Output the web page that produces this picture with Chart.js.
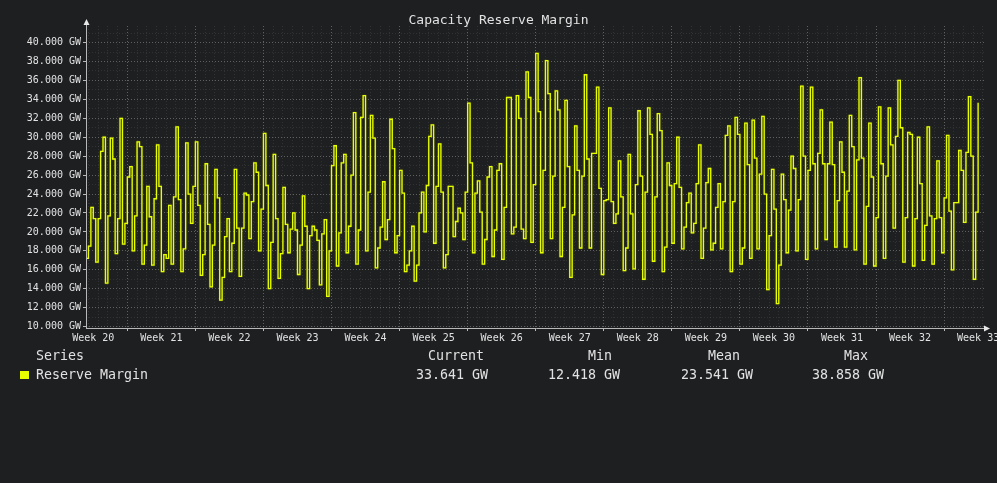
<!DOCTYPE html>
<html><head><meta charset="utf-8">
<script src="https://cdn.jsdelivr.net/npm/chart.js@4.4.1/dist/chart.umd.min.js"></script>
<style>
html,body{margin:0;padding:0;background:#1e1f21;}
#wrap{position:relative;width:997px;height:483px;overflow:hidden;background:#1e1f21;font-family:'DejaVu Sans Mono',monospace;color:#e2e2e2;}
canvas{position:absolute;left:0;top:0;}
.t{position:absolute;white-space:pre;font-size:13.3px;line-height:1;}
</style></head><body>
<div id="wrap">
<canvas id="c" width="997" height="483"></canvas>
<div class="t" id="title" style="left:0;width:997px;text-align:center;top:13px;font-size:13px;">Capacity Reserve Margin</div>
<div class="t" style="left:36px;top:349px;">Series</div>
<div class="t" style="left:428px;top:349px;">Current</div>
<div class="t" style="left:588px;top:349px;">Min</div>
<div class="t" style="left:708px;top:349px;">Mean</div>
<div class="t" style="left:844px;top:349px;">Max</div>
<div style="position:absolute;left:20px;top:371px;width:9px;height:8px;background:#e8ff00;"></div>
<div class="t" style="left:36px;top:368px;">Reserve Margin</div>
<div class="t" id="vCur" style="left:416px;top:368px;"></div>
<div class="t" id="vMin" style="left:548px;top:368px;"></div>
<div class="t" id="vMean" style="left:681px;top:368px;"></div>
<div class="t" id="vMax" style="left:812px;top:368px;"></div>
</div>
<script>
// ---- data ----
const weekLabels = ['Week 20','Week 21','Week 22','Week 23','Week 24','Week 25','Week 26',
  'Week 27','Week 28','Week 29','Week 30','Week 31','Week 32','Week 33'];
const yTickValues = [10,12,14,16,18,20,22,24,26,28,30,32,34,36,38,40];
const summaryLabels = ['Current','Min','Mean','Max'];
const summaryValues = [33.641, 12.418, 23.541, 38.858];
const startHour = 66;   // hours after start of Week 20
const stepHours = 6;
const reserveMargin = [
 17.2,18.5,22.6,21.4,16.8,21.4,28.5,30.0,14.6,21.7,29.9,27.7,17.7,21.4,32.0,18.7,20.9,25.8,26.9,18.0,
 21.7,29.5,29.0,16.6,18.6,24.8,21.6,16.5,23.5,29.2,24.8,15.8,17.6,17.2,22.8,16.6,23.7,31.1,23.4,15.8,
 18.2,29.4,24.0,20.9,24.8,29.5,22.8,15.4,17.6,27.2,20.8,14.2,18.6,26.6,23.6,12.8,15.2,19.5,21.4,15.8,
 18.8,26.6,
 20.4,15.3,20.4,24.1,23.9,19.3,23.2,27.3,26.3,18.0,22.4,30.4,24.9,14.0,18.9,28.2,21.4,15.1,17.7,24.7,
 20.8,17.8,20.3,22.0,20.2,15.5,18.6,23.8,20.6,14.0,19.6,20.6,20.2,19.1,14.4,
 19.8,21.3,13.2,18.0,27.0,29.1,16.4,19.9,27.3,28.2,17.8,20.6,26.0,32.6,16.6,20.2,32.1,34.4,18.0,24.2,
 32.3,29.9,16.2,18.3,20.5,25.3,19.2,21.3,31.9,28.8,17.8,19.6,26.5,
 24.1,15.8,16.5,18.0,20.6,14.8,16.5,22.0,24.2,20.0,24.9,30.1,31.3,18.8,24.8,29.3,24.2,16.2,17.6,24.8,
 24.8,19.5,21.1,22.5,22.0,19.2,24.2,33.6,27.3,17.8,24.1,25.4,22.1,16.6,19.2,
 25.8,26.9,17.4,20.2,26.5,27.2,17.1,22.6,34.2,34.2,19.8,20.5,34.4,32.0,20.3,19.3,36.9,34.2,18.9,25.0,
 38.858,32.7,17.8,26.5,38.1,34.6,19.3,25.9,34.9,32.9,17.4,22.6,33.9,26.9,
 15.2,21.8,31.2,26.5,18.3,25.9,36.6,27.7,18.3,28.3,28.3,35.3,24.6,15.5,23.3,23.4,33.1,23.2,20.9,21.9,
 27.5,23.7,15.9,18.3,28.2,21.9,16.1,25.0,32.8,25.9,15.0,24.2,33.1,30.3,16.9,23.7,
 32.5,30.7,15.8,18.4,27.3,24.9,18.8,25.1,30.0,24.7,18.2,20.5,23.1,24.1,19.9,20.9,25.1,29.2,17.2,20.4,
 25.2,26.7,18.1,18.8,22.6,25.1,18.2,23.2,30.2,31.2,15.8,23.2,32.1,30.3,
 16.6,18.3,31.5,27.1,17.2,31.8,27.8,18.2,26.1,32.2,24.0,13.9,19.6,26.6,22.4,12.418,16.5,26.1,23.4,17.8,
 22.3,28.0,26.7,18.0,23.4,35.4,28.0,17.1,26.5,35.3,27.2,18.2,28.3,
 32.9,27.2,19.2,27.2,31.6,27.1,18.4,23.3,29.5,26.3,18.4,24.3,32.3,29.0,18.1,27.6,36.3,27.8,16.6,22.7,
 31.5,25.8,16.4,21.5,33.2,27.2,17.2,25.9,33.1,29.2,20.4,30.1,36.0,31.0,
 16.8,21.5,30.5,30.3,16.4,21.4,30.0,25.1,17.0,20.7,31.1,21.7,16.6,21.4,27.5,21.5,17.8,23.6,30.2,22.2,
 16.0,23.1,23.1,28.6,26.5,21.0,28.4,34.3,28.0,15.0,22.1,33.641
];

// ---- legend values ----
document.getElementById('vCur').textContent = summaryValues[0].toFixed(3) + ' GW';
document.getElementById('vMin').textContent = summaryValues[1].toFixed(3) + ' GW';
document.getElementById('vMean').textContent = summaryValues[2].toFixed(3) + ' GW';
document.getElementById('vMax').textContent = summaryValues[3].toFixed(3) + ' GW';

const points = reserveMargin.map((v, i) => ({x: startHour + i * stepHours, y: v}));
const HOURS_WEEK = 168, HOURS_DAY = 24;
const X_MIN = 66, X_MAX = 2285;

const MAJOR = 'rgba(150,150,150,0.55)';
const MINOR = 'rgba(130,130,130,0.2)';
const AXIS = '#b8b8b8';
const FONT = "'DejaVu Sans Mono', monospace";

const axesPlugin = {
  id: 'rrdAxes',
  beforeDatasetsDraw(chart) {
    const ctx = chart.ctx;
    ctx.save();
    ctx.shadowColor = 'rgba(190,215,0,0.4)';
    ctx.shadowBlur = 1.5;
  },
  afterDatasetsDraw(chart) {
    chart.ctx.restore();
    const {ctx, chartArea: a} = chart;
    ctx.save();
    ctx.strokeStyle = AXIS;
    ctx.fillStyle = '#e8e8e8';
    ctx.lineWidth = 1;
    ctx.beginPath();
    ctx.moveTo(a.left + 0.5, a.bottom + 0.5);
    ctx.lineTo(a.left + 0.5, a.top - 2);
    ctx.moveTo(a.left, a.bottom + 0.5);
    ctx.lineTo(a.right + 2, a.bottom + 0.5);
    ctx.stroke();
    ctx.beginPath();
    ctx.moveTo(a.left + 0.5, a.top - 7);
    ctx.lineTo(a.left - 2.5, a.top - 1);
    ctx.lineTo(a.left + 3.5, a.top - 1);
    ctx.closePath();
    ctx.fill();
    ctx.beginPath();
    ctx.moveTo(a.right + 5, a.bottom + 0.5);
    ctx.lineTo(a.right - 1, a.bottom - 2.5);
    ctx.lineTo(a.right - 1, a.bottom + 3.5);
    ctx.closePath();
    ctx.fill();
    ctx.restore();
  }
};

new Chart(document.getElementById('c'), {
  type: 'line',
  data: {
    datasets: [{
      label: 'Reserve Margin',
      data: points,
      borderColor: '#e8ff00',
      borderWidth: 1.3,
      pointRadius: 0,
      fill: false,
      stepped: true,
      tension: 0
    }]
  },
  options: {
    responsive: false,
    animation: false,
    layout: {padding: {left: 0, right: 12, top: 26, bottom: 135}},
    plugins: {legend: {display: false}, tooltip: {enabled: false}, title: {display: false}},
    scales: {
      x: {
        type: 'linear',
        min: X_MIN, max: X_MAX,
        afterFit(s) { s.height = 20; },
        afterBuildTicks(s) {
          const t = [];
          for (let h = Math.ceil(X_MIN / HOURS_DAY) * HOURS_DAY; h <= X_MAX; h += HOURS_DAY) t.push(h);
          weekLabels.forEach((_, w) => { const m = w * HOURS_WEEK + 84; if (m >= X_MIN && m <= X_MAX) t.push(m); });
          t.sort((a, b) => a - b);
          s.ticks = t.map(v => ({value: v}));
        },
        ticks: {
          autoSkip: false, maxRotation: 0, minRotation: 0, padding: 1,
          color: '#e2e2e2', font: {family: FONT, size: 10},
          callback(v) {
            if ((v - 84) % HOURS_WEEK === 0) return weekLabels[Math.round((v - 84) / HOURS_WEEK)];
            return '';
          }
        },
        grid: {
          color(c) {
            const v = c.tick ? c.tick.value : 0;
            if (v % HOURS_WEEK === 0) return MAJOR;
            if (v % HOURS_DAY === 0) return MINOR;
            return 'rgba(0,0,0,0)';
          },
          tickColor(c) {
            const v = c.tick ? c.tick.value : 0;
            return v % HOURS_WEEK === 0 ? AXIS : 'rgba(0,0,0,0)';
          },
          tickLength: 3, lineWidth: 1, drawTicks: true
        },
        border: {display: false, dash: [1, 2]}
      },
      y: {
        type: 'linear',
        min: 9.85, max: 41.75,
        afterFit(s) { s.width = 86; },
        afterBuildTicks(s) {
          const t = [];
          for (let v = 10; v <= 41; v++) t.push({value: v});
          s.ticks = t;
        },
        ticks: {
          autoSkip: false, padding: 2,
          color: '#e2e2e2', font: {family: FONT, size: 10},
          callback(v) { return yTickValues.includes(v) ? v.toFixed(3) + ' GW' : ''; }
        },
        grid: {
          color(c) {
            const v = c.tick ? c.tick.value : 0;
            return yTickValues.includes(v) ? MAJOR : MINOR;
          },
          tickColor(c) {
            const v = c.tick ? c.tick.value : 0;
            return yTickValues.includes(v) ? AXIS : 'rgba(0,0,0,0)';
          },
          tickLength: 3, lineWidth: 1
        },
        border: {display: false, dash: [1, 2]}
      }
    }
  },
  plugins: [axesPlugin]
});
</script>
</body></html>
